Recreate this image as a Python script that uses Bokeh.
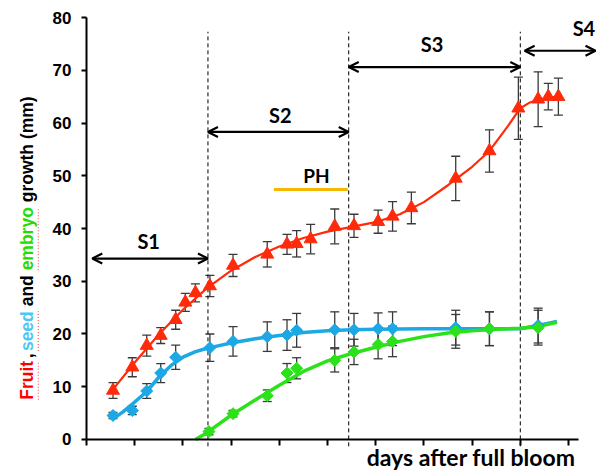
import numpy as np
from bokeh.plotting import figure
from bokeh.models import (ColumnDataSource, Whisker, TeeHead, Arrow, OpenHead,
                          Label, FixedTicker, Range1d)
from bokeh.embed import file_html
from bokeh.resources import INLINE

# ---------------- data ----------------
fruit_x = [5.5, 9.5, 12.5, 15.4, 18.5, 20.5, 22.6, 25.6, 30.4, 37.5, 41.6, 43.6,
           46.5, 51.5, 55.5, 60.5, 63.5, 67.4, 76.6, 83.6, 89.6, 93.7, 95.8, 97.9]
fruit_y = [9.3, 13.7, 17.8, 19.7, 22.7, 26.0, 27.8, 29.1, 33.0, 35.1, 37.0, 37.1,
           38.0, 40.4, 40.5, 41.3, 42.3, 43.9, 49.5, 54.7, 62.8, 64.5, 65.0, 65.0]
fruit_err = [1.5, 1.8, 2.0, 1.5, 1.8, 1.7, 1.7, 2.0, 2.1, 2.4, 1.9, 2.5,
             2.8, 3.3, 2.2, 2.2, 2.8, 3.0, 4.2, 4.0, 5.9, 5.2, 2.5, 3.5]

seed_x = [5.5, 9.5, 12.5, 15.4, 18.5, 25.6, 30.4, 37.5, 41.6, 43.6, 51.5, 55.5,
          60.5, 63.5, 76.6, 83.6, 93.7]
seed_y = [4.55, 5.5, 9.2, 12.6, 15.6, 17.4, 18.6, 19.5, 19.8, 20.7, 20.8, 20.8,
          21.0, 21.0, 21.2, 21.0, 21.6]
seed_err = [0.6, 0.8, 1.4, 1.8, 2.3, 2.6, 2.8, 2.8, 2.9, 3.2, 3.4, 3.1,
            3.0, 3.2, 3.3, 3.2, 3.3]

embryo_x = [25.4, 30.4, 37.5, 41.6, 43.6, 51.5, 55.5, 60.5, 63.5, 76.6, 83.6, 93.7]
embryo_y = [1.5, 4.9, 8.3, 12.6, 13.5, 15.0, 16.6, 18.0, 18.6, 20.5, 21.0, 21.2]
embryo_err = [0.6, 0.6, 1.1, 1.8, 2.0, 2.2, 2.4, 2.7, 2.9, 3.2, 3.2, 3.3]

# fitted trend curves
fruit_curve_x = [5.5, 10, 15, 20, 25, 30, 35, 40, 45, 50, 55, 60, 65, 70, 75, 80,
                 83.6, 87.5, 90, 92, 94, 96, 98]
fruit_curve_y = [9.5, 14.6, 19.9, 24.6, 28.7, 32.0, 34.6, 36.6, 38.2, 39.4, 40.3,
                 41.2, 42.7, 45.0, 48.2, 51.7, 54.7, 59.5, 62.8, 63.9, 64.5, 64.8, 65.0]
seed_curve_x = [5.5, 7.5, 10, 12.5, 15, 17.5, 20, 22.5, 25, 27.5, 30, 35, 40, 45,
                50, 55, 60, 70, 80, 90, 93.7, 97.6]
seed_curve_y = [3.9, 5.2, 7.1, 9.1, 11.8, 14.0, 15.6, 16.6, 17.3, 17.8, 18.3, 19.1,
                19.7, 20.3, 20.6, 20.8, 20.9, 21.0, 21.0, 21.0, 21.6, 22.4]
embryo_curve_x = [22.6, 25, 30, 35, 40, 45, 50, 55, 60, 65, 70, 75, 80, 85, 90,
                  93.7, 97.6]
embryo_curve_y = [0.0, 1.3, 4.6, 7.5, 10.3, 12.9, 14.9, 16.3, 17.5, 18.6, 19.5,
                  20.2, 20.6, 20.9, 21.1, 21.4, 22.2]

stage_names = ["S1", "S2", "S3", "S4"]
stage_start = [1.2, 25.2, 54.4, 90.9]
stage_end = [25.2, 54.4, 90.0, 105.6]
stage_boundaries = [25.2, 54.4, 90.0]
ph_start, ph_end = 38.9, 54.2

y_ticks = [0, 10, 20, 30, 40, 50, 60, 70, 80]
x_ticks = [0, 10, 20, 30, 40, 50, 60, 70, 80, 90, 100]

RED = "#ff2a0a"
BLUE = "#1ca8e4"
GREEN = "#2be21a"
ERR = "#3a3a3a"

# ---------------- figure: frame covers the whole canvas ----------------
p = figure(width=601, height=470, x_range=Range1d(-17.842, 106.846),
           y_range=Range1d(-5.877, 83.223),
           output_backend="svg", toolbar_location=None,
           min_border_left=0, min_border_right=0, min_border_top=0, min_border_bottom=0)
p.min_border = 0
p.grid.visible = False
p.outline_line_color = None
p.background_fill_color = "white"
p.border_fill_color = "white"

ya = p.yaxis[0]
ya.fixed_location = 0
ya.ticker = FixedTicker(ticks=y_ticks)
ya.bounds = (0, 80)
ya.axis_line_width = 2
ya.major_tick_line_width = 2
ya.major_tick_out = 5
ya.major_tick_in = 0
ya.minor_tick_out = 0
ya.minor_tick_in = 0
ya.major_label_standoff = 10
ya.major_label_text_font = "Liberation Sans"
ya.major_label_text_font_style = "bold"
ya.major_label_text_font_size = "17px"
ya.major_label_text_color = "black"

xa = p.xaxis[0]
xa.fixed_location = 0
xa.ticker = FixedTicker(ticks=x_ticks)
xa.bounds = (0, 102)
xa.axis_line_width = 2
xa.major_tick_line_width = 2
xa.major_tick_out = 6
xa.major_tick_in = 0
xa.minor_tick_out = 0
xa.minor_tick_in = 0
xa.major_label_overrides = {t: "" for t in x_ticks}

# stage boundary dashed lines
p.segment(x0=stage_boundaries, y0=[-1.3] * 3, x1=stage_boundaries, y1=[77.3] * 3,
          line_color="black", line_width=1, line_dash="4 3")

# trend curves
p.line(seed_curve_x, seed_curve_y, line_color=BLUE, line_width=3.5)
p.line(embryo_curve_x, embryo_curve_y, line_color=GREEN, line_width=3.5)
p.line(fruit_curve_x, fruit_curve_y, line_color=RED, line_width=2.2)

# markers
p.scatter(seed_x, seed_y, marker="square", angle=np.pi / 4, size=8.5, color=BLUE)
p.scatter(embryo_x, embryo_y, marker="square", angle=np.pi / 4, size=8.5, color=GREEN)
p.scatter(fruit_x, fruit_y, marker="triangle", size=13, color=RED)


def add_err(xs, ys, es):
    src = ColumnDataSource(dict(x=xs, lo=[y - e for y, e in zip(ys, es)],
                                hi=[y + e for y, e in zip(ys, es)]))
    w = Whisker(source=src, base="x", upper="hi", lower="lo", dimension="height",
                line_color=ERR, line_width=1.3,
                upper_head=TeeHead(size=9, line_color=ERR, line_width=1.3),
                lower_head=TeeHead(size=9, line_color=ERR, line_width=1.3))
    p.add_layout(w)


add_err(seed_x, seed_y, seed_err)
add_err(embryo_x, embryo_y, embryo_err)
add_err(fruit_x, fruit_y, fruit_err)

# stage arrows and names
arrow_y = [34.3, 58.3, 70.6, 73.7]
name_pos = [(12.9, 37.63), (40.2, 61.46), (71.7, 74.98), (103.2, 78.03)]
for name, x0, x1, ay, (tx, ty) in zip(stage_names, stage_start, stage_end, arrow_y, name_pos):
    p.add_layout(Arrow(start=OpenHead(size=10, line_width=2.2, line_color="black"),
                       end=OpenHead(size=10, line_width=2.2, line_color="black"),
                       x_start=x0, y_start=ay, x_end=x1, y_end=ay,
                       line_width=2.2, line_color="black"))
    p.add_layout(Label(x=tx, y=ty, text=name, text_align="center", text_baseline="middle",
                       text_font="Lato", text_font_style="bold", text_font_size="20px",
                       text_color="black"))

# PH bar
p.segment(x0=[ph_start], y0=[47.4], x1=[ph_end], y1=[47.4], line_color="#f5b800", line_width=3)
p.add_layout(Label(x=47.7, y=50.09, text="PH", text_align="center", text_baseline="middle",
                   text_font="Lato", text_font_style="bold", text_font_size="19px",
                   text_color="black"))

# x axis title
p.add_layout(Label(x=101.45, y=-3.32, text="days after full bloom", text_align="right",
                   text_baseline="middle", text_font="Lato", text_font_style="bold",
                   text_font_size="23px", text_color="black"))

# multi-coloured y axis title (rotated pieces)
px_per_y = 5.275
fs = 17.5
w_em = {"F": .611, "r": .389, "u": .611, "i": .278, "t": .333, ",": .278, " ": .278,
        "s": .556, "e": .556, "d": .611, "a": .556, "n": .611, "m": .889, "b": .611,
        "y": .556, "o": .611, "g": .611, "w": .778, "h": .611, "(": .333, ")": .333}
pieces = [("Fruit", "#ff0000", True), (",", "black", False), ("seed", "#4fc6f5", True),
          ("and", "black", False), ("embryo", "#22dd00", True), ("growth (mm)", "black", False)]
total = sum(sum(w_em[c] for c in t) for t, _, _ in pieces) + 4 * w_em[" "]
ycur = 36.3 - total * fs / 2 / px_per_y
for t, col, ul in pieces:
    wlen = sum(w_em[c] for c in t) * fs / px_per_y
    ypos = ycur - 0.45 if t == "," else ycur
    p.add_layout(Label(x=-12.35, y=ypos, text=t, angle=np.pi / 2, text_align="left",
                       text_baseline="middle", text_font="Liberation Sans",
                       text_font_style="bold", text_font_size=f"{fs}px", text_color=col))
    if ul:
        p.add_layout(Arrow(start=None, end=None, x_start=-10.0, y_start=ycur,
                           x_end=-10.0, y_end=ycur + wlen, line_color="#ff6060",
                           line_width=1.2, line_dash="1 2"))
    ycur += wlen
    if t != ",":
        ycur += w_em[" "] * fs / px_per_y

open("out.html", "w").write(file_html(p, INLINE))
